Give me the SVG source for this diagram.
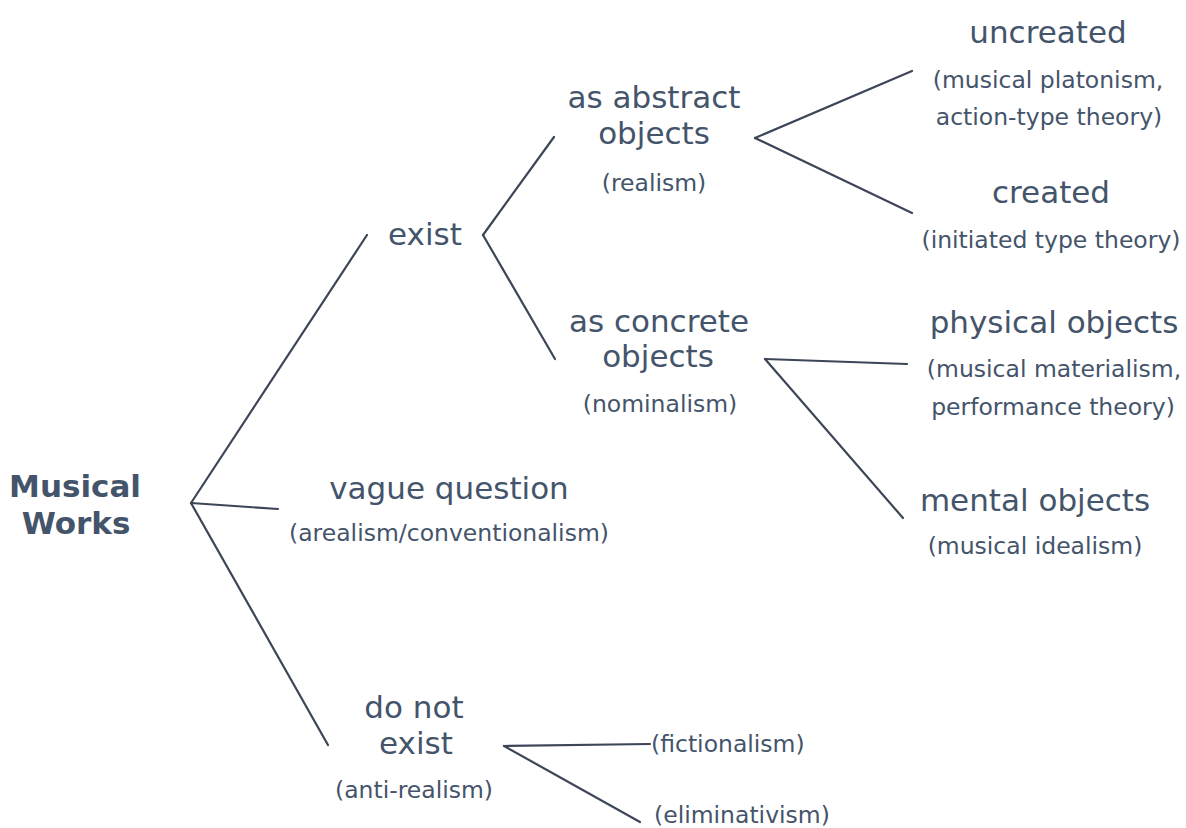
<svg xmlns="http://www.w3.org/2000/svg" width="1186" height="828" viewBox="0 0 1186 828">
<style>
text{font-family:"DejaVu Sans","Liberation Sans",sans-serif;fill:#44546a;text-anchor:middle}
.big{font-size:31px}
.small{font-size:23.5px}
.root{font-size:31px;font-weight:bold}
.start{text-anchor:start}
#connectors line{stroke:#3d4658;stroke-width:2.2;stroke-linecap:round}
</style>
<rect width="1186" height="828" fill="#ffffff"/>
<g id="connectors">
<line x1="191" y1="503" x2="367" y2="235"/>
<line x1="191" y1="503" x2="278" y2="509"/>
<line x1="191" y1="503" x2="328" y2="745"/>
<line x1="483" y1="235" x2="554" y2="137"/>
<line x1="483" y1="235" x2="555" y2="359"/>
<line x1="755" y1="138" x2="912" y2="71"/>
<line x1="755" y1="138" x2="912" y2="213"/>
<line x1="765" y1="359" x2="907" y2="364"/>
<line x1="765" y1="359" x2="903" y2="518"/>
<line x1="504" y1="746" x2="650" y2="744"/>
<line x1="504" y1="746" x2="640" y2="822"/>
</g>
<g id="musical-works">
<text class="root" x="75" y="497">Musical</text>
<text class="root" x="76" y="534">Works</text>
</g>
<g id="exist">
<text class="big" x="425" y="245">exist</text>
</g>
<g id="abstract">
<text class="big" x="654" y="108">as abstract</text>
<text class="big" x="654" y="144">objects</text>
<text class="small" x="654" y="191">(realism)</text>
</g>
<g id="uncreated">
<text class="big" x="1048" y="43">uncreated</text>
<text class="small" x="1048" y="88">(musical platonism,</text>
<text class="small" x="1049" y="125">action-type theory)</text>
</g>
<g id="created">
<text class="big" x="1051" y="203">created</text>
<text class="small" x="1051" y="248">(initiated type theory)</text>
</g>
<g id="concrete">
<text class="big" x="659" y="332">as concrete</text>
<text class="big" x="658" y="367">objects</text>
<text class="small" x="660" y="412">(nominalism)</text>
</g>
<g id="physical">
<text class="big" x="1054" y="333">physical objects</text>
<text class="small" x="1054" y="377">(musical materialism,</text>
<text class="small" x="1053" y="415">performance theory)</text>
</g>
<g id="mental">
<text class="big" x="1035" y="511">mental objects</text>
<text class="small" x="1035" y="554">(musical idealism)</text>
</g>
<g id="vague">
<text class="big" x="449" y="499">vague question</text>
<text class="small" x="449" y="541">(arealism/conventionalism)</text>
</g>
<g id="do-not-exist">
<text class="big" x="414" y="718">do not</text>
<text class="big" x="416" y="754">exist</text>
<text class="small" x="414" y="798">(anti-realism)</text>
</g>
<g id="fictionalism">
<text class="small start" x="651" y="752">(fictionalism)</text>
</g>
<g id="eliminativism">
<text class="small start" x="654" y="823">(eliminativism)</text>
</g>
</svg>
